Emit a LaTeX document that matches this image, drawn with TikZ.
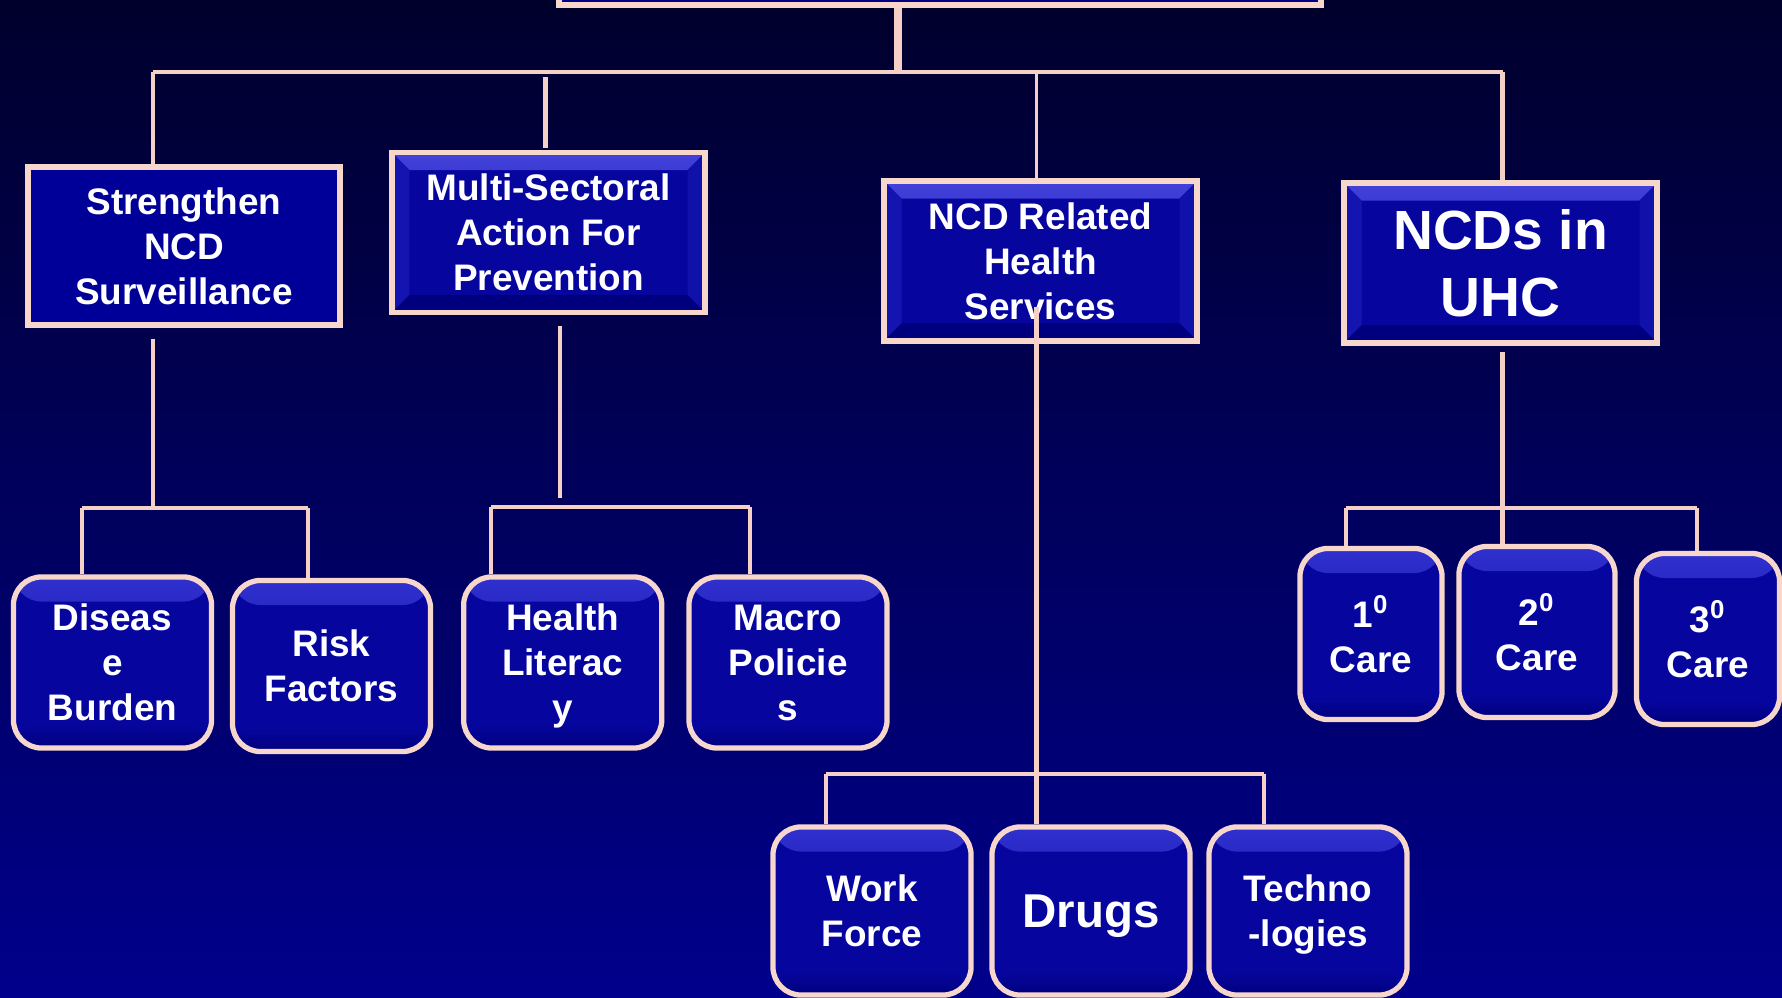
\documentclass[tikz,border=0pt]{standalone}
\usepackage{fontspec}
\setmainfont{Liberation Sans}
\usetikzlibrary{calc}

\definecolor{bgtop}{RGB}{0,0,44}
\definecolor{bgbot}{RGB}{0,0,140}
\definecolor{boxblue}{RGB}{6,6,158}
\definecolor{flatblue}{RGB}{0,0,152}
\definecolor{bevlight}{RGB}{66,66,218}
\definecolor{glosslight}{RGB}{48,48,206}
\definecolor{bevside}{RGB}{20,20,176}
\definecolor{bevdark}{RGB}{0,0,126}
\definecolor{rim}{RGB}{247,214,204}
\definecolor{wire}{RGB}{245,208,198}

\tikzset{
  conn/.style={draw=wire, line width=1.3pt},
  thinconn/.style={draw=wire, line width=0.7pt},
  trunk/.style={draw=wire, line width=2pt},
  txt/.style={text=white, align=center, text depth=0pt,
    font=\bfseries\fontsize{10.5}{12.8}\selectfont},
  flathead/.style={rectangle, draw=rim, line width=1.7pt, fill=flatblue,
    inner sep=0pt, minimum width=3.12cm, minimum height=1.58cm, txt},
  bevelhead/.style={rectangle, draw=rim, line width=1.6pt, fill=boxblue,
    inner sep=0pt, minimum width=3.13cm, minimum height=1.60cm, txt,
    path picture={
      \shade[top color=bevlight, bottom color=boxblue!85!bevlight]
        (path picture bounding box.north west) -- (path picture bounding box.north east)
        -- ([shift={(-5pt,-5pt)}]path picture bounding box.north east)
        -- ([shift={(5pt,-5pt)}]path picture bounding box.north west) -- cycle;
      \fill[bevside]
        (path picture bounding box.north west) -- ([shift={(5pt,-5pt)}]path picture bounding box.north west)
        -- ([shift={(5pt,5pt)}]path picture bounding box.south west)
        -- (path picture bounding box.south west) -- cycle;
      \fill[bevside!70!boxblue]
        (path picture bounding box.north east) -- ([shift={(-5pt,-5pt)}]path picture bounding box.north east)
        -- ([shift={(-5pt,5pt)}]path picture bounding box.south east)
        -- (path picture bounding box.south east) -- cycle;
      \fill[bevdark]
        (path picture bounding box.south west) -- ([shift={(5pt,5pt)}]path picture bounding box.south west)
        -- ([shift={(-5pt,5pt)}]path picture bounding box.south east)
        -- (path picture bounding box.south east) -- cycle;
    }},
  leafbox/.style={rectangle, rounded corners=8pt, draw=rim, line width=1.5pt,
    fill=boxblue, inner sep=0pt, minimum width=1.98cm, minimum height=1.71cm, txt,
    path picture={
      \shade[top color=glosslight, bottom color=boxblue]
        (path picture bounding box.north west) rectangle ([yshift=-7pt]path picture bounding box.north east);
      \shade[top color=boxblue, bottom color=bevdark]
        ([yshift=7pt]path picture bounding box.south west) rectangle (path picture bounding box.south east);
    }},
}

\begin{document}
\begin{tikzpicture}[x=0.01cm, y=-0.01cm]
  % page and backdrop
  \useasboundingbox (0,0) rectangle (1782,998);
  \clip (0,0) rectangle (1782,998);
  \shade[top color=bgtop, bottom color=bgbot] (0,0) rectangle (1782,998);

  % root box, only its lower edge lies inside the page
  \node[bevelhead, minimum width=7.62cm, minimum height=0.66cm] (root) at (940,-28) {};

  % first tier
  \node[flathead] (s1) at (184,246) {Strengthen\\NCD\\Surveillance};
  \node[bevelhead] (s2) at (548.5,232.5) {Multi-Sectoral\\Action For\\Prevention};
  \node[bevelhead] (s3) at (1040.5,261) {NCD Related\\Health\\Services};
  \node[bevelhead, font=\bfseries\fontsize{15.7}{18.8}\selectfont] (s4) at (1500.5,263) {NCDs in\\UHC};

  % second tier
  \node[leafbox] (a1) at (112.5,662.5) {Diseas\\e\\Burden};
  \node[leafbox] (a2) at (331.5,666) {Risk\\Factors};
  \node[leafbox] (b1) at (562.7,662.5) {Health\\Literac\\y};
  \node[leafbox] (b2) at (788,662.5) {Macro\\Policie\\s};
  \node[leafbox, minimum width=1.42cm] (d1) at (1371,634) {1\textsuperscript{0}\\Care};
  \node[leafbox, minimum width=1.56cm] (d2) at (1537,632) {2\textsuperscript{0}\\Care};
  \node[leafbox, minimum width=1.43cm] (d3) at (1708,639) {3\textsuperscript{0}\\Care};
  \node[leafbox, minimum height=1.68cm] (c1) at (872,911) {Work\\Force};
  \node[leafbox, minimum height=1.68cm, font=\bfseries\fontsize{13.5}{16}\selectfont] (c2) at (1091,911) {Drugs};
  \node[leafbox, minimum height=1.68cm] (c3) at (1308,911) {Techno\\-logies};

  % top bus
  \coordinate (busmid) at (898,72);
  \coordinate (busL) at (153,72);
  \coordinate (busR) at (1502.5,72);
  \coordinate (bus3) at (1036.5,72);
  \coordinate (s2up) at (545.5,77);
  \coordinate (s2dn) at (545.5,148);
  \draw[trunk] (busmid |- root.south) -- (busmid);
  \draw[conn] (busL) -- (busR);
  \draw[conn] (busL) -- (busL |- s1.north);
  \draw[conn] (s2up) -- (s2dn);
  \draw[thinconn] (bus3) -- (bus3 |- s3.north);
  \draw[conn] (busR) -- (busR |- s4.north);

  % surveillance branch
  \coordinate (s1out) at (153,339);
  \coordinate (s1j) at (153,508);
  \coordinate (s1L) at (82,508);
  \coordinate (s1R) at (308,508);
  \draw[conn] (s1out) -- (s1j);
  \draw[conn] (s1L) -- (s1R);
  \draw[conn] (s1L) -- (s1L |- a1.north);
  \draw[conn] (s1R) -- (s1R |- a2.north);

  % prevention branch
  \coordinate (s2out) at (560,326);
  \coordinate (s2end) at (560,498);
  \coordinate (s2L) at (491,507);
  \coordinate (s2R) at (750,507);
  \draw[conn] (s2out) -- (s2end);
  \draw[conn] (s2L) -- (s2R);
  \draw[conn] (s2L) -- (s2L |- b1.north);
  \draw[conn] (s2R) -- (s2R |- b2.north);

  % health services branch
  \coordinate (s3out) at (1036.5,307);
  \coordinate (s3end) at (1036.5,824);
  \coordinate (s3L) at (826,774);
  \coordinate (s3R) at (1264,774);
  \draw[conn] (s3out) -- (s3end);
  \draw[conn] (s3L) -- (s3R);
  \draw[conn] (s3L) -- (s3L |- c1.north);
  \draw[conn] (s3R) -- (s3R |- c3.north);

  % UHC branch
  \coordinate (s4out) at (1502.5,352);
  \coordinate (s4L) at (1346,508);
  \coordinate (s4R) at (1697,508);
  \draw[conn] (s4out) -- (s4out |- d2.north);
  \draw[conn] (s4L) -- (s4R);
  \draw[conn] (s4L) -- (s4L |- d1.north);
  \draw[conn] (s4R) -- (s4R |- d3.north);
\end{tikzpicture}
\end{document}
